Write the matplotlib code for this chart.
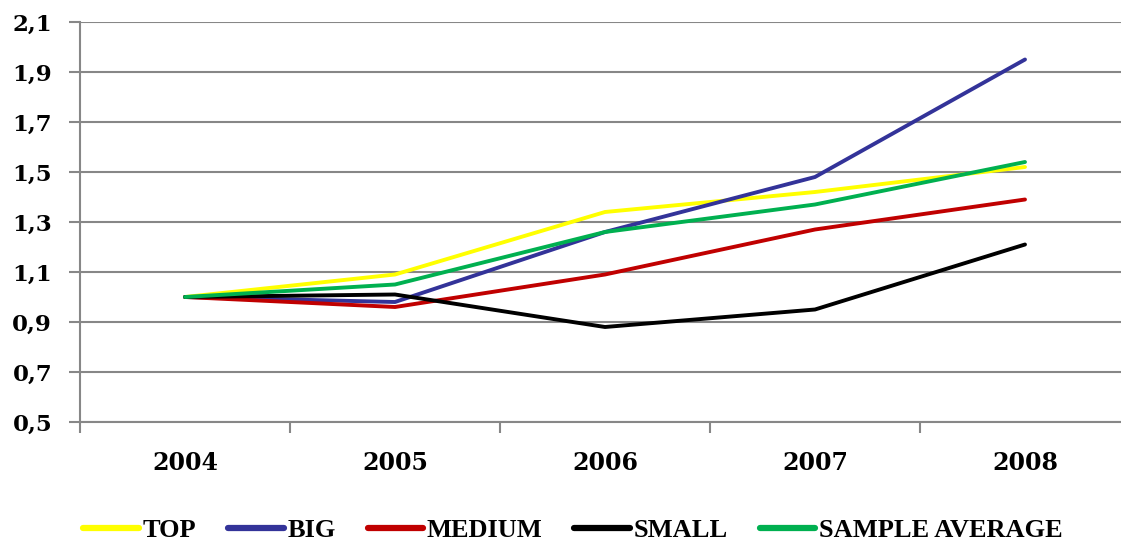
import matplotlib
matplotlib.use("Agg")
import matplotlib.pyplot as plt
import numpy as np

years = ["2004", "2005", "2006", "2007", "2008"]
top = [1.00, 1.09, 1.34, 1.42, 1.52]
big = [1.00, 0.98, 1.26, 1.48, 1.95]
medium = [1.00, 0.96, 1.09, 1.27, 1.39]
small = [1.00, 1.01, 0.88, 0.95, 1.21]
sample_avg = [1.00, 1.05, 1.26, 1.37, 1.54]
y_ticks = [0.5, 0.7, 0.9, 1.1, 1.3, 1.5, 1.7, 1.9, 2.1]

series = [("TOP", top, "#FFFF00"), ("BIG", big, "#333399"), ("MEDIUM", medium, "#C00000"),
          ("SMALL", small, "#000000"), ("SAMPLE AVERAGE", sample_avg, "#00B050")]

fig = plt.figure(figsize=(11.21, 5.41), dpi=100)
ax = fig.add_axes([80/1121, 119/541, 1050/1121, 400/541])
x = np.arange(len(years))
grid_c = "#878787"
for name, vals, c in series:
    ax.plot(x, vals, color=c, lw=2.8, label=name, solid_capstyle="round", zorder=3)

ax.set_xlim(-0.5, len(years) - 0.5)
ax.set_ylim(0.5, 2.1)
ax.set_yticks(y_ticks)
ax.set_yticklabels([f"{v:.1f}".replace(".", ",") for v in y_ticks],
                   fontfamily="DejaVu Serif", fontweight="bold", fontsize=16.5)
ax.yaxis.grid(True, color=grid_c, lw=1.5)
ax.set_axisbelow(True)
ax.set_xticks(np.arange(-0.5, len(years), 1.0))
ax.set_xticklabels([])
ax.set_xticks(x, minor=True)
ax.set_xticklabels(years, minor=True, fontfamily="DejaVu Serif", fontweight="bold", fontsize=17)
ax.tick_params(axis="x", which="major", length=8, width=1.5, color=grid_c, direction="out")
ax.tick_params(axis="x", which="minor", length=0, pad=21)
ax.tick_params(axis="y", length=8, width=1.5, color=grid_c, pad=12)
for s in ["top", "right"]:
    ax.spines[s].set_visible(False)
for s in ["left", "bottom"]:
    ax.spines[s].set_color(grid_c)
    ax.spines[s].set_linewidth(1.5)

leg = fig.legend(loc="center", bbox_to_anchor=(573/1121, 11/541), ncol=5, frameon=False,
                 prop={"family": "Liberation Serif", "weight": "bold", "size": 19},
                 handlelength=2.1, handletextpad=0.15, columnspacing=1.2)
for h in leg.get_lines():
    h.set_linewidth(4.5)

fig.savefig("out.png", dpi=100)
